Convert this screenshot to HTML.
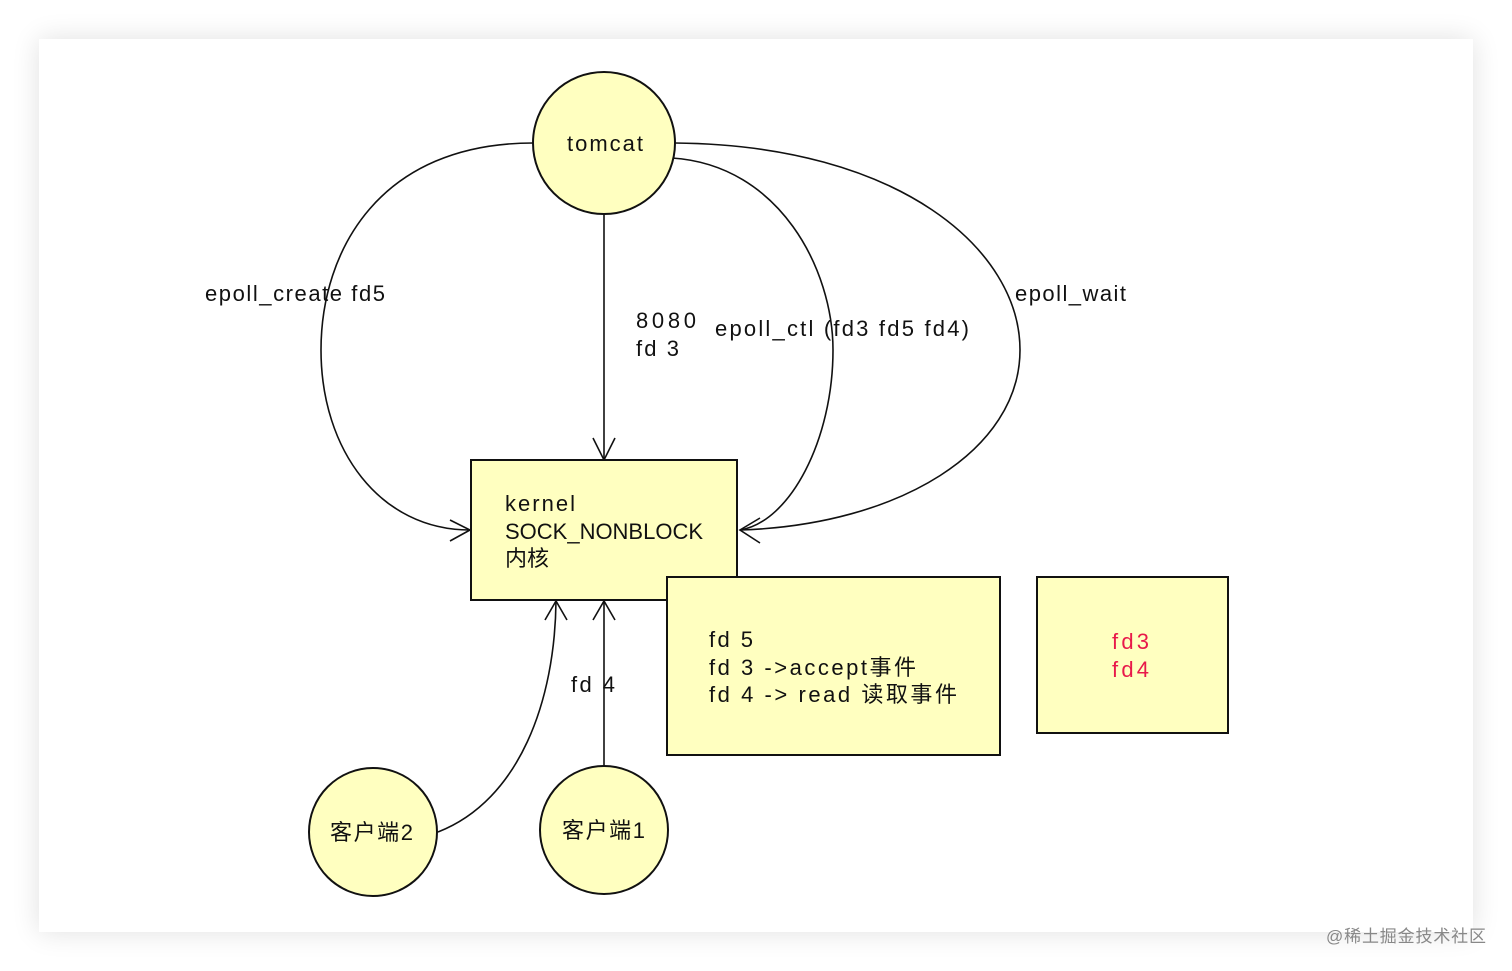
<!DOCTYPE html>
<html><head><meta charset="utf-8"><style>
body{margin:0;background:#fff;}
svg{display:block}
text{font-family:"Liberation Sans","Noto Sans CJK SC",sans-serif;font-size:22px;fill:#111;}
</style></head><body>
<svg width="1512" height="971" viewBox="0 0 1512 971" xmlns="http://www.w3.org/2000/svg">
<defs>
<filter id="sh" x="-5%" y="-5%" width="110%" height="110%"><feGaussianBlur stdDeviation="14"/></filter>
</defs>
<rect x="39" y="39" width="1434" height="893" fill="#000" opacity="0.12" filter="url(#sh)"/>
<rect x="39" y="39" width="1434" height="893" fill="#fff"/>
<g fill="none" stroke="#111" stroke-width="1.6">
<path d="M533,143 C380,143 321,250 321,350 C321,450 380,530 470,530"/>
<path d="M672,158 C780,165 833,270 833,350 C833,440 790,522 740,530"/>
<path d="M675,143 C900,145 1020,250 1020,350 C1020,450 900,525 740,530"/>
<path d="M604,214 L604,460"/>
<path d="M438,832 C520,800 555,700 556,601"/>
<path d="M604,766 L604,601"/>
<path d="M593,438 L604,460 L615,438"/>
<path d="M450,520 L470,530 L450,541"/>
<path d="M760,518 L740,530 L760,543"/>
<path d="M545,620 L556,601 L567,620"/>
<path d="M593,620 L604,601 L615,620"/>
</g>
<g stroke="#111" stroke-width="2" fill="#ffffc0">
<circle cx="604" cy="143" r="71"/>
<circle cx="373" cy="832" r="64"/>
<circle cx="604" cy="830" r="64"/>
<rect x="471" y="460" width="266" height="140"/>
<rect x="667" y="577" width="333" height="178"/>
<rect x="1037" y="577" width="191" height="156"/>
</g>
<g lengthAdjust="spacing">
<text x="567" y="151" textLength="76" lengthAdjust="spacing">tomcat</text>
<text x="330" y="840" textLength="83" lengthAdjust="spacing">客户端2</text>
<text x="562" y="838" textLength="83" lengthAdjust="spacing">客户端1</text>
<text x="505" y="511" textLength="70" lengthAdjust="spacing">kernel</text>
<text x="505" y="539" textLength="198" lengthAdjust="spacing">SOCK_NONBLOCK</text>
<text x="505" y="566">内核</text>
<text x="709" y="647" textLength="44" lengthAdjust="spacing">fd 5</text>
<text x="709" y="675" textLength="207" lengthAdjust="spacing">fd 3 -&gt;accept事件</text>
<text x="709" y="702" textLength="248" lengthAdjust="spacing">fd 4 -&gt; read 读取事件</text>
<text x="1112" y="649" style="fill:#e8194a" textLength="37" lengthAdjust="spacing">fd3</text>
<text x="1112" y="677" style="fill:#e8194a" textLength="37" lengthAdjust="spacing">fd4</text>
<text x="205" y="301" textLength="180" lengthAdjust="spacing">epoll_create fd5</text>
<text x="636" y="328" textLength="60" lengthAdjust="spacing">8080</text>
<text x="636" y="356" textLength="43" lengthAdjust="spacing">fd 3</text>
<text x="715" y="336" textLength="254" lengthAdjust="spacing">epoll_ctl (fd3  fd5 fd4)</text>
<text x="1015" y="301" textLength="111" lengthAdjust="spacing">epoll_wait</text>
<text x="571" y="692" textLength="44" lengthAdjust="spacing">fd 4</text>
<text x="1326" y="942" style="font-size:17px;fill:#888" textLength="160" lengthAdjust="spacing">@稀土掘金技术社区</text>
</g>
</svg>
</body></html>
